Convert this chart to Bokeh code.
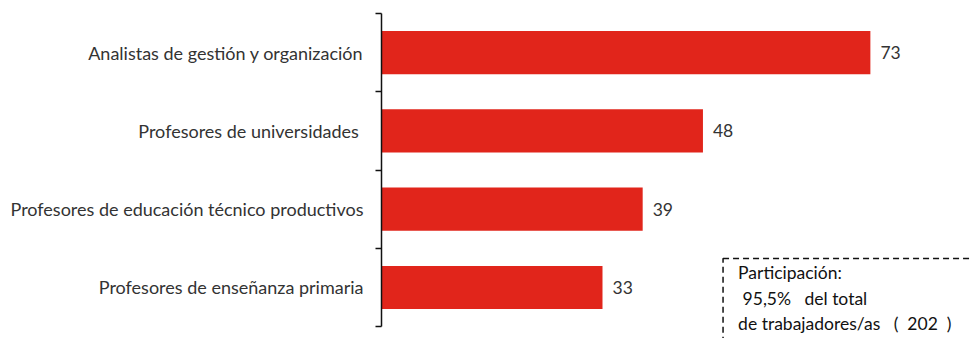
from bokeh.plotting import figure
from bokeh.models import Range1d, FixedTicker, BoxAnnotation, Label
from bokeh.core.properties import value
from bokeh.embed import file_html
from bokeh.resources import INLINE

categories = ["Analistas de gestión y organización", "Profesores de universidades ",
              "Profesores de educación técnico productivos", "Profesores de enseñanza primaria"]
values = [73, 48, 39, 33]
note_lines = ["Participación:", "\u00a095,5%\u00a0\u00a0\u00a0del total",
              "de trabajadores/as\u00a0\u00a0\u00a0(\u00a0\u00a0202\u00a0\u00a0)"]

n = len(categories)
centers = [n - 0.5 - i for i in range(n)]

p = figure(width=971, height=338, output_backend="svg", toolbar_location=None,
           x_range=Range1d(0, 88.1), y_range=Range1d(-0.153, 4),
           min_border_left=381, min_border_right=0, min_border_top=13, min_border_bottom=0)
p.outline_line_color = None
p.xgrid.visible = False
p.ygrid.visible = False
p.xaxis.visible = False

p.hbar(y=centers, right=values, left=0, height=0.55, color="#E1251B", line_color=None)
p.text(x=values, y=centers, text=[str(v) for v in values], x_offset=10,
       text_baseline="middle", text_align="left", text_font=value("Lato"),
       text_font_size="17.5px", text_color="#333333")

ax = p.yaxis[0]
ax.ticker = FixedTicker(ticks=centers, minor_ticks=list(range(n + 1)))
ax.major_label_overrides = {c: cat for c, cat in zip(centers, categories)}
ax.bounds = (0, n)
ax.major_tick_out = 0
ax.major_tick_in = 0
ax.minor_tick_out = 6
ax.minor_tick_in = 0
ax.minor_tick_line_color = "#111111"
ax.minor_tick_line_width = 1.5
ax.axis_line_color = "#111111"
ax.axis_line_width = 1.5
ax.major_label_standoff = 12
ax.major_label_text_font = "Lato"
ax.major_label_text_font_size = "18px"
ax.major_label_text_color = "#333333"

box = BoxAnnotation(left=51.0, right=200, top=0.869, bottom=-5,
                    fill_color=None, fill_alpha=0, line_color="#111111", line_alpha=1.0,
                    line_width=1.5, line_dash="6 4")
p.add_layout(box)

for txt, yy in zip(note_lines, [0.69, 0.358, 0.038]):
    p.add_layout(Label(x=53.25, y=yy, text=txt, text_font="Lato", text_font_size="17.5px",
                       text_baseline="middle", text_color="#111111"))

open("out.html", "w").write(file_html(p, INLINE))
